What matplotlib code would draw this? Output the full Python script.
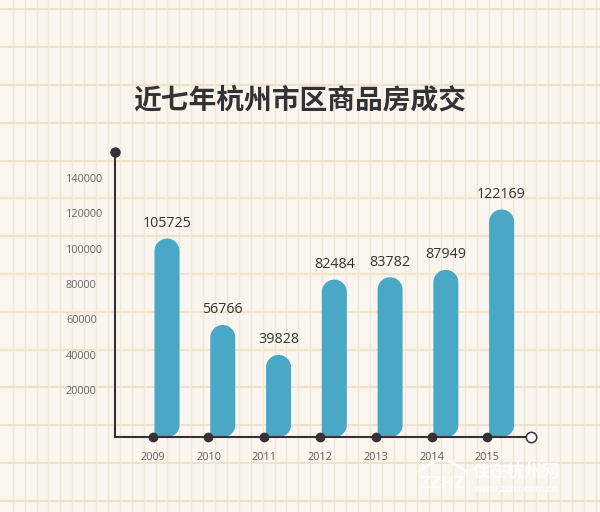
import numpy as np
import matplotlib
matplotlib.use("Agg")
import matplotlib.pyplot as plt
from matplotlib.patches import Polygon
from matplotlib.lines import Line2D

# ---- data ----
years = ["2009", "2010", "2011", "2012", "2013", "2014", "2015"]
values = [105725, 56766, 39828, 82484, 83782, 87949, 122169]
yticks = [20000, 40000, 60000, 80000, 100000, 120000, 140000]
title = "近七年杭州市区商品房成交"

W, H, DPI = 600, 512, 100
fig = plt.figure(figsize=(W / DPI, H / DPI), dpi=DPI)
bg = "#faf6ef"
fig.patch.set_facecolor(bg)

# notebook-paper background lines (figure coords)
for x in np.arange(12.7, W, 11.9):
    fig.add_artist(Line2D([x / W, x / W], [0, 1], transform=fig.transFigure,
                          color="#efe7d9", lw=1.0, zorder=-3))
for y in np.arange(9.3, H, 37.8):
    fig.add_artist(Line2D([0, 1], [1 - y / H, 1 - y / H], transform=fig.transFigure,
                          color="#f0e3cc", lw=1.5, zorder=-3))

# axes placement (pixel measurements)
axL, axR, axT, axB = 115, 530.7, 152, 437
ax = fig.add_axes([axL / W, 1 - axB / H, (axR - axL) / W, (axB - axT) / H])
ax.set_facecolor("none")

x0_px, dx_px = 152.7, 55.77
xlim = ((axL - x0_px) / dx_px, (axR - x0_px) / dx_px)
px_per_unit = 212 / 120000.0
zero_px = 425.3
ylim = ((zero_px - axB) / px_per_unit, (zero_px - axT) / px_per_unit)
ax.set_xlim(*xlim)
ax.set_ylim(*ylim)

color_bar = "#48a8c6"
dark = "#333333"

# rounded bars
bw_px = 25.0
bw = bw_px / dx_px
off = 1.8 / dx_px
rx = (bw_px / 2) / dx_px
ry = (bw_px / 2) / px_per_unit
rcx = 12 / dx_px
rcy = 12 / px_per_unit
base = ylim[0]
for i, v in enumerate(values):
    xl = i + off
    xr = xl + bw
    pts = [(xl, base), (xr - rcx, base)]
    t = np.linspace(-np.pi / 2, 0, 20)
    pts += list(zip(xr - rcx + rcx * np.cos(t), base + rcy + rcy * np.sin(t)))
    t = np.linspace(0, np.pi, 40)
    cx, cy = xl + bw / 2, v - ry
    pts += list(zip(cx + rx * np.cos(t), cy + ry * np.sin(t)))
    pts.append((xl, base))
    ax.add_patch(Polygon(pts, closed=True, facecolor=color_bar, edgecolor="none", zorder=2))
    ax.text(xl + bw / 2, v + 4300, f"{v}", ha="center", va="bottom",
            fontsize=10.3, color=dark, family="Open Sans", zorder=4)

# axes lines
for s in ["top", "right"]:
    ax.spines[s].set_visible(False)
for s in ["left", "bottom"]:
    ax.spines[s].set_color(dark)
    ax.spines[s].set_linewidth(1.5)
    ax.spines[s].set_zorder(3)

# dots
ax.plot([xlim[0]], [ylim[1]], "o", color=dark, ms=6.5, clip_on=False, zorder=5)
ax.plot(range(len(years)), [ylim[0]] * len(years), "o", color=dark, ms=6,
        clip_on=False, zorder=5)
ax.plot([xlim[1]], [ylim[0]], "o", mfc="white", mec=dark, mew=1.1, ms=7.5,
        clip_on=False, zorder=5)

# ticks
ax.set_yticks(yticks)
ax.set_yticklabels([str(t) for t in yticks])
ax.tick_params(axis="y", length=0, pad=35.3, labelsize=7.8, labelcolor="#666666")
for lab in ax.get_yticklabels():
    lab.set_horizontalalignment("left")
    lab.set_family("Open Sans")
ax.set_xticks(range(len(years)))
ax.set_xticklabels(years)
ax.tick_params(axis="x", length=0, pad=11, labelsize=7.8, labelcolor="#5e5e5e")
for lab in ax.get_xticklabels():
    lab.set_family("Open Sans")

# title
fig.text(0.5, 1 - 100 / H, title, ha="center", va="center", fontsize=20,
         fontweight="bold", color=dark, family=["Noto Sans CJK SC", "DejaVu Sans"])

# watermark (drawn behind the axes content)
wm = dict(color="white", alpha=0.85, transform=fig.transFigure, zorder=-1)
fig.text(516 / W, 1 - 472 / H, "住在杭州网", ha="center", va="center", fontsize=12.5,
         fontweight="bold", family=["Noto Sans CJK SC", "DejaVu Sans"], **wm)
fig.text(516 / W, 1 - 489 / H, "www.zzhz.com.cn", ha="center", va="center", fontsize=7,
         fontweight="bold", family="Open Sans", **wm)
fig.text(442 / W, 1 - 484 / H, "ZZHZ", ha="center", va="center", fontsize=11,
         fontweight="bold", family="DejaVu Sans", **wm)
fig.add_artist(Line2D([419 / W, 442 / W, 466 / W], [1 - 471 / H, 1 - 457 / H, 1 - 471 / H],
                      transform=fig.transFigure, color="white", alpha=0.85, lw=2.2,
                      zorder=-1))

fig.savefig("out.png", dpi=DPI, facecolor=fig.get_facecolor())
